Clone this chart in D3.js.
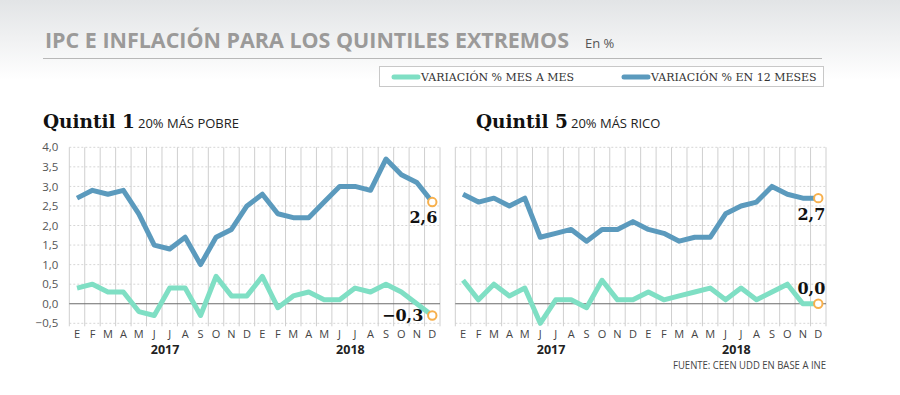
<!DOCTYPE html>
<html>
<head>
<meta charset="utf-8">
<script src="https://cdn.jsdelivr.net/npm/d3@7"></script>
<style>
  body { margin: 0; background: #fff; }
  svg { display: block; }
</style>
</head>
<body>
<svg id="chart" width="900" height="395"></svg>
<script>
const months = ['E','F','M','A','M','J','J','A','S','O','N','D','E','F','M','A','M','J','J','A','S','O','N','D'];
const years = ['2017', '2018'];
const yTicks = [-0.5, 0, 0.5, 1, 1.5, 2, 2.5, 3, 3.5, 4];

// Quintil 1 (20% más pobre)
const q1Mes = [0.4,0.5,0.3,0.3,-0.2,-0.3,0.4,0.4,-0.3,0.7,0.2,0.2, 0.7,-0.1,0.2,0.3,0.1,0.1,0.4,0.3,0.5,0.3,0.0,-0.3];
const q1Anual = [2.7,2.9,2.8,2.9,2.3,1.5,1.4,1.7,1.0,1.7,1.9,2.5, 2.8,2.3,2.2,2.2,2.6,3.0,3.0,2.9,3.7,3.3,3.1,2.6];
// Quintil 5 (20% más rico)
const q5Mes = [0.6,0.1,0.5,0.2,0.4,-0.5,0.1,0.1,-0.1,0.6,0.1,0.1, 0.3,0.1,0.2,0.3,0.4,0.1,0.4,0.1,0.3,0.5,0.0,0.0];
const q5Anual = [2.8,2.6,2.7,2.5,2.7,1.7,1.8,1.9,1.6,1.9,1.9,2.1, 1.9,1.8,1.6,1.7,1.7,2.3,2.5,2.6,3.0,2.8,2.7,2.7];

const green = '#7fdfc4', blue = '#5b9abd', orange = '#f7b04d';
const svg = d3.select('#chart');

// fondo degradado arriba
const defs = svg.append('defs');
const grad = defs.append('linearGradient').attr('id', 'bg').attr('x1', 0).attr('y1', 0).attr('x2', 0).attr('y2', 1);
grad.append('stop').attr('offset', '0%').attr('stop-color', '#e2e4e6');
grad.append('stop').attr('offset', '100%').attr('stop-color', '#ffffff');
svg.append('rect').attr('width', 900).attr('height', 80).attr('fill', 'url(#bg)');

// titulo
svg.append('text')
  .attr('x', 45).attr('y', 48)
  .attr('font-family', 'Open Sans').attr('font-weight', 700).attr('font-size', 22)
  .attr('fill', '#9b9a99')
  .attr('textLength', 524).attr('lengthAdjust', 'spacingAndGlyphs')
  .text('IPC E INFLACIÓN PARA LOS QUINTILES EXTREMOS');
svg.append('text')
  .attr('x', 585).attr('y', 48)
  .attr('font-family', 'Open Sans').attr('font-size', 13).attr('fill', '#555')
  .text('En %');
svg.append('line').attr('x1', 43).attr('x2', 822).attr('y1', 58.5).attr('y2', 58.5)
  .attr('stroke', '#b8b8b8').attr('stroke-width', 1);

// leyenda
const legend = svg.append('g');
legend.append('rect').attr('x', 379.5).attr('y', 66.5).attr('width', 444).attr('height', 20)
  .attr('fill', '#fff').attr('stroke', '#c8c8c8');
const legendItems = [
  { label: 'VARIACIÓN % MES A MES', color: green, x: 394 },
  { label: 'VARIACIÓN % EN 12 MESES', color: blue, x: 624 }
];
legendItems.forEach(d => {
  legend.append('line').attr('x1', d.x).attr('x2', d.x + 24).attr('y1', 77).attr('y2', 77)
    .attr('stroke', d.color).attr('stroke-width', 5).attr('stroke-linecap', 'round');
  legend.append('text').attr('x', d.x + 27).attr('y', 81)
    .attr('font-family', 'DejaVu Serif').attr('font-size', 11).attr('fill', '#333')
    .text(d.label);
});

function drawPanel(opts) {
  const g = svg.append('g');
  const x = d3.scaleBand().domain(d3.range(months.length)).range([opts.x0, opts.x1]);
  const y = d3.scaleLinear().domain([-0.5, 4]).range([323.3, 147.3]);
  const cx = i => opts.x0 + (i + 0.5) * x.bandwidth();

  // encabezado
  const head = g.append('text').attr('x', opts.titleX).attr('y', 128);
  head.append('tspan').attr('font-family', 'DejaVu Serif').attr('font-weight', 700)
    .attr('font-size', 18.5).attr('fill', '#111').text(opts.title);
  head.append('tspan').attr('font-family', 'Open Sans').attr('font-size', 13)
    .attr('fill', '#222').attr('dx', 3).text(opts.subtitle);

  // grilla horizontal
  g.append('g').selectAll('line').data(yTicks.filter(v => v !== 0)).join('line')
    .attr('x1', opts.x0).attr('x2', opts.x1)
    .attr('y1', d => y(d)).attr('y2', d => y(d))
    .attr('stroke', '#d6d6d6').attr('stroke-dasharray', '2,2');

  // grilla vertical
  g.append('g').selectAll('line').data(d3.range(months.length + 1)).join('line')
    .attr('x1', d => opts.x0 + d * x.bandwidth()).attr('x2', d => opts.x0 + d * x.bandwidth())
    .attr('y1', y(4)).attr('y2', y(-0.5) + 3)
    .attr('stroke', '#cfcfcf');

  g.append('line').attr('x1', opts.x0).attr('x2', opts.x1).attr('y1', y(0)).attr('y2', y(0))
    .attr('stroke', '#6b6b6b').attr('stroke-width', 1.2);

  if (opts.yAxis) {
    const ax = g.append('g').attr('transform', `translate(${opts.x0 - 8},0)`)
      .call(d3.axisLeft(y).tickValues(yTicks).tickSize(0).tickFormat(d => d3.format('.1f')(d).replace('.', ',')));
    ax.select('.domain').remove();
    ax.selectAll('text').attr('font-family', 'Open Sans').attr('font-size', 11.5).attr('fill', '#555').attr('dx', 0);
  }

  const mx = g.append('g').attr('transform', `translate(0,${y(-0.5)})`)
    .call(d3.axisBottom(x).tickSize(0).tickPadding(7).tickFormat(i => months[i]));
  mx.select('.domain').remove();
  mx.selectAll('text').attr('font-family', 'Open Sans').attr('font-size', 11).attr('fill', '#444');

  years.forEach((yr, k) => {
    g.append('text').attr('x', cx(k * 12 + 5.7)).attr('y', 354)
      .attr('text-anchor', 'middle').attr('font-family', 'Open Sans').attr('font-weight', 700)
      .attr('font-size', 12.5).attr('fill', '#222').text(yr);
  });

  const line = d3.line().x((d, i) => cx(i)).y(d => y(d));
  [[opts.mes, green], [opts.anual, blue]].forEach(([vals, col]) => {
    g.append('path').datum(vals).attr('d', line)
      .attr('fill', 'none').attr('stroke', col).attr('stroke-width', 5)
      .attr('stroke-linejoin', 'round');
  });

  const last = months.length - 1;
  [[opts.anual, opts.anualLabel], [opts.mes, opts.mesLabel]].forEach(([vals, lab]) => {
    g.append('circle').attr('cx', cx(last)).attr('cy', y(vals[last])).attr('r', 4.2)
      .attr('fill', '#fff').attr('stroke', orange).attr('stroke-width', 2);
    g.append('text').attr('x', cx(last) + lab.dx).attr('y', y(vals[last]) + lab.dy)
      .attr('text-anchor', 'end').attr('font-family', 'DejaVu Serif').attr('font-weight', 700)
      .attr('font-size', 16).attr('fill', '#111')
      .text(d3.format('.1f')(vals[last]).replace('.', ',').replace('-', '−'));
  });
}

drawPanel({
  x0: 69.3, x1: 440, titleX: 43, title: 'Quintil 1', subtitle: '20% MÁS POBRE',
  mes: q1Mes, anual: q1Anual, yAxis: true,
  anualLabel: { dx: 5, dy: 21 }, mesLabel: { dx: -9, dy: 6 }
});
drawPanel({
  x0: 455.3, x1: 826, titleX: 476, title: 'Quintil 5', subtitle: '20% MÁS RICO',
  mes: q5Mes, anual: q5Anual, yAxis: false,
  anualLabel: { dx: 7, dy: 22 }, mesLabel: { dx: 7, dy: -10 }
});

svg.append('text').attr('x', 826).attr('y', 369).attr('text-anchor', 'end')
  .attr('font-family', 'Liberation Sans Narrow, Open Sans').attr('font-size', 10).attr('fill', '#444')
  .attr('textLength', 153).attr('lengthAdjust', 'spacingAndGlyphs')
  .text('FUENTE: CEEN UDD EN BASE A INE');
</script>
</body>
</html>
